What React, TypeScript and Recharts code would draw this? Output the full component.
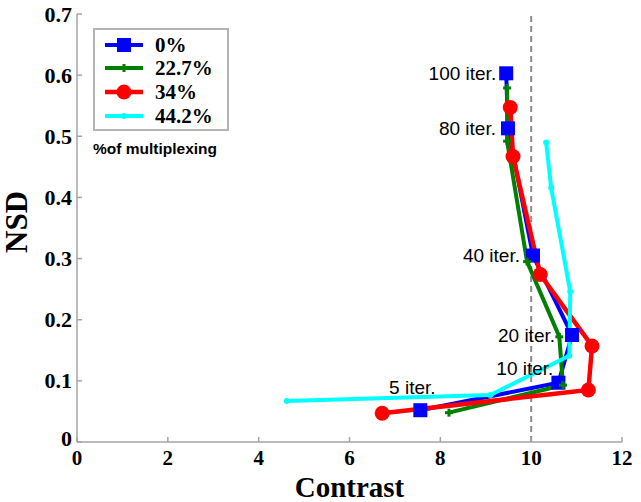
import React from 'react';
import {
  LineChart, Line, XAxis, YAxis, ReferenceLine, ReferenceDot, Legend,
} from 'recharts';

// ---- data ----
const seriesNames = ['0%', '22.7%', '34%', '44.2%'];
const iterationLabels = ['100 iter.', '80 iter.', '40 iter.', '20 iter.', '10 iter.', '5 iter.'];

const contrast0 = [9.45, 9.49, 10.04, 10.9, 10.6, 7.56];
const nsd0 = [0.603, 0.513, 0.305, 0.175, 0.097, 0.052];

const contrast227 = [9.47, 9.47, 9.91, 10.62, 10.7, 8.19];
const nsd227 = [0.579, 0.492, 0.295, 0.172, 0.093, 0.048];

const contrast34 = [9.54, 9.6, 10.2, 11.34, 11.26, 6.72];
const nsd34 = [0.547, 0.467, 0.274, 0.157, 0.085, 0.047];

const contrast442 = [10.33, 10.44, 10.86, 10.84, 9.1, 4.62];
const nsd442 = [0.49, 0.416, 0.246, 0.141, 0.077, 0.067];

const xTicks = [0, 2, 4, 6, 8, 10, 12];
const yTicks = [0, 0.1, 0.2, 0.3, 0.4, 0.5, 0.6, 0.7];
const thresholdContrast = 10;

// ---- styling ----
const SERIF = '"Liberation Serif", "Times New Roman", serif';
const SANS = '"Liberation Sans", Arial, sans-serif';
const FRAME = '#a4a4a4';

const toPoints = (xs: number[], ys: number[]) => xs.map((x, i) => ({ x, y: ys[i] }));

const series = [
  { name: seriesNames[0], data: toPoints(contrast0, nsd0), color: '#0000ff', marker: 'square', width: 4 },
  { name: seriesNames[1], data: toPoints(contrast227, nsd227), color: '#008000', marker: 'plus', width: 4 },
  { name: seriesNames[2], data: toPoints(contrast34, nsd34), color: '#ff0000', marker: 'circle', width: 4.5 },
  { name: seriesNames[3], data: toPoints(contrast442, nsd442), color: '#00ffff', marker: 'dot', width: 4 },
];

const labelStyle = [
  { dx: -10, dy: 0, anchor: 'end' },
  { dx: -12, dy: 0, anchor: 'end' },
  { dx: -13, dy: 0, anchor: 'end' },
  { dx: -17, dy: 0, anchor: 'end' },
  { dx: -5, dy: -14, anchor: 'end' },
  { dx: -8, dy: -23, anchor: 'middle' },
];

function Marker({ kind, cx, cy, color }: { kind: string; cx: number; cy: number; color: string }) {
  if (kind === 'square') return <rect x={cx - 7} y={cy - 7} width={14} height={14} fill={color} />;
  if (kind === 'plus')
    return (
      <g stroke={color} strokeWidth={3}>
        <line x1={cx - 4} x2={cx + 4} y1={cy} y2={cy} />
        <line x1={cx} x2={cx} y1={cy - 4} y2={cy + 4} />
      </g>
    );
  if (kind === 'circle') return <circle cx={cx} cy={cy} r={7.5} fill={color} />;
  return <circle cx={cx} cy={cy} r={3} fill={color} />;
}

const XTick = (p: any) => (
  <g>
    <line x1={p.x} x2={p.x} y1={p.y} y2={p.y - 5} stroke={FRAME} strokeWidth={1.5} />
    <text x={p.x} y={p.y + 23} textAnchor="middle" fontFamily={SERIF} fontWeight="bold" fontSize={21} fill="#000">
      {p.payload.value}
    </text>
  </g>
);
const YTick = (p: any) => (
  <g>
    <line x1={p.x} x2={p.x + 5} y1={p.y} y2={p.y} stroke={FRAME} strokeWidth={1.5} />
    <text x={p.x - 5} y={p.payload.value === 0 ? p.y - 4 : p.y} textAnchor="end" dominantBaseline="central"
      fontFamily={SERIF} fontWeight="bold" fontSize={22} fill="#000">
      {p.payload.value}
    </text>
  </g>
);
const TopTick = (p: any) => <line x1={p.x} x2={p.x} y1={p.y} y2={p.y + 5} stroke={FRAME} strokeWidth={1.5} />;
const RightTick = (p: any) => <line x1={p.x} x2={p.x - 5} y1={p.y} y2={p.y} stroke={FRAME} strokeWidth={1.5} />;

const LegendBox = () => (
  <svg width={150} height={135} style={{ overflow: 'visible' }}>
    <rect x={2} y={2} width={134} height={101} fill="#fff" stroke="#b4b4b4" strokeWidth={2} />
    {series.map((s, i) => {
      const cy = [18, 41, 65, 89][i];
      return (
        <g key={s.name}>
          <line x1={13} x2={51} y1={cy} y2={cy} stroke={s.color} strokeWidth={s.width} />
          <Marker kind={s.marker} cx={32} cy={cy} color={s.color} />
          <text x={63} y={cy} dominantBaseline="central" fontFamily={SERIF} fontWeight="bold" fontSize={21} fill="#000">
            {s.name}
          </text>
        </g>
      );
    })}
    <text x={1} y={121} dominantBaseline="central" fontFamily={SANS} fontWeight="bold" fontSize={15.5} fill="#000">
      %of multiplexing
    </text>
  </svg>
);

export default function App() {
  return (
    <div style={{ position: 'absolute', left: 0, top: 0, width: 641, height: 502, background: '#fff' }}>
      <LineChart width={641} height={502} margin={{ top: 14, right: 19, bottom: 0, left: 0 }}>
        <XAxis
          type="number" dataKey="x" domain={[0, 12]} ticks={xTicks} height={60}
          axisLine={{ stroke: FRAME, strokeWidth: 1.5 }} tickLine={false} tickSize={0} tickMargin={0}
          tick={XTick} interval={0} allowDataOverflow
          label={{
            content: (p: any) => (
              <text x={p.viewBox.x + p.viewBox.width / 2} y={p.viewBox.y + 55} textAnchor="middle"
                fontFamily={SERIF} fontWeight="bold" fontSize={29} fill="#000">Contrast</text>
            ),
          }}
        />
        <XAxis
          xAxisId="top" orientation="top" type="number" dataKey="x" domain={[0, 12]} ticks={xTicks} height={0}
          axisLine={{ stroke: FRAME, strokeWidth: 1.5 }} tickLine={false} tickSize={0} tickMargin={0}
          tick={TopTick} interval={0} allowDataOverflow
        />
        <YAxis
          type="number" domain={[0, 0.7]} ticks={yTicks} width={77}
          axisLine={{ stroke: FRAME, strokeWidth: 1.5 }} tickLine={false} tickSize={0} tickMargin={0}
          tick={YTick} interval={0} allowDataOverflow
          label={{
            content: () => {
              const cx = 27;
              const cy = 222;
              return (
                <text x={cx} y={cy} transform={`rotate(-90, ${cx}, ${cy})`} textAnchor="middle"
                  fontFamily={SERIF} fontWeight="bold" fontSize={31} fill="#000">NSD</text>
              );
            },
          }}
        />
        <YAxis
          yAxisId="right" orientation="right" type="number" domain={[0, 0.7]} ticks={yTicks} width={0}
          axisLine={{ stroke: FRAME, strokeWidth: 1.5 }} tickLine={false} tickSize={0} tickMargin={0}
          tick={RightTick} interval={0} allowDataOverflow
        />
        <ReferenceLine x={thresholdContrast} stroke="#8c8c8c" strokeWidth={2} strokeDasharray="6 4" />
        {series.map((s) => (
          <Line
            key={s.name} name={s.name} data={s.data} dataKey="y" type="linear"
            stroke={s.color} strokeWidth={s.width} isAnimationActive={false} activeDot={false}
            dot={(p: any) => <Marker key={`${s.name}-${p.index}`} kind={s.marker} cx={p.cx} cy={p.cy} color={s.color} />}
          />
        ))}
        {iterationLabels.map((t, i) => (
          <ReferenceDot
            key={t} x={contrast0[i]} y={nsd0[i]} r={0} fill="none" stroke="none"
            label={{
              content: (p: any) => {
                const vb = p.viewBox || {};
                const st = labelStyle[i];
                return (
                  <text x={(vb.x ?? 0) + (vb.width ?? 0) / 2 + st.dx} y={(vb.y ?? 0) + (vb.height ?? 0) / 2 + st.dy}
                    textAnchor={st.anchor} dominantBaseline="central" fontFamily={SANS} fontSize={19} fill="#000">
                    {t}
                  </text>
                );
              },
            }}
          />
        ))}
        <Legend
          layout="vertical" align="center" verticalAlign="middle"
          wrapperStyle={{ left: 92, top: 27, width: 150, height: 135 }}
          content={() => <LegendBox />}
        />
      </LineChart>
    </div>
  );
}
